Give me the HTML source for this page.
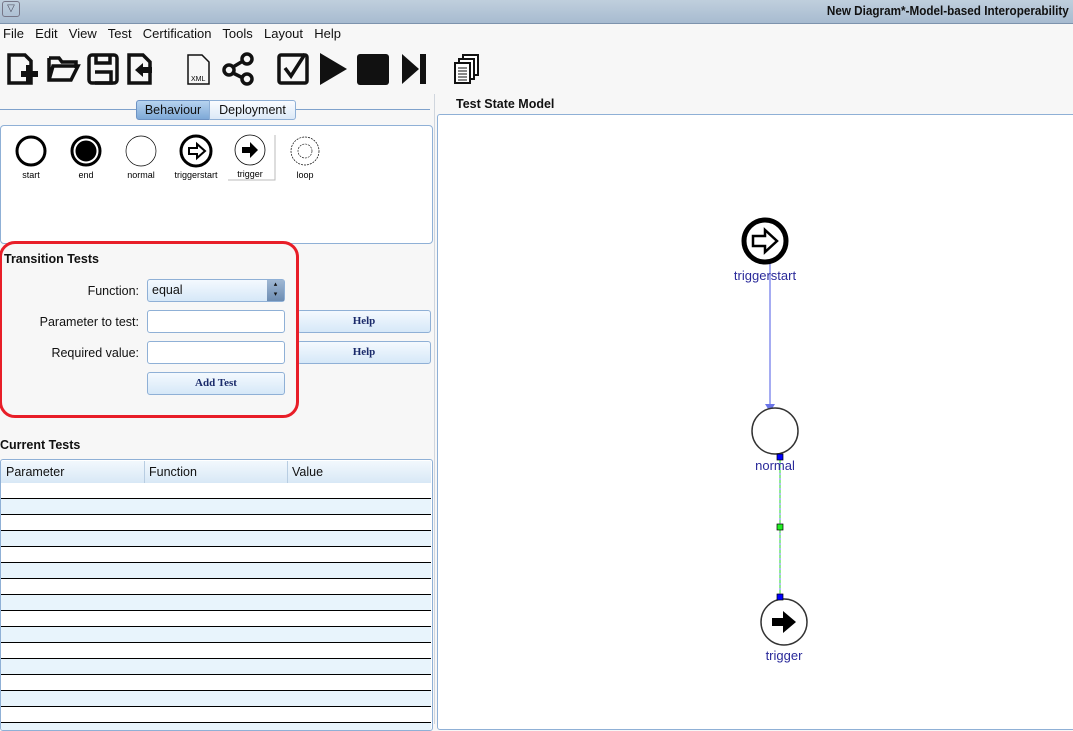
<!DOCTYPE html>
<html><head><style>
body{margin:0;width:1073px;height:724px;position:relative;overflow:hidden;background:#f7f7f7;font-family:"Liberation Sans",sans-serif;font-size:13px;color:#111}
.a{position:absolute}
.btn{position:absolute;background:linear-gradient(#f4f9fe,#d6e8f8);border:1px solid #8fb0d6;border-radius:3px;font-family:"Liberation Serif",serif;font-weight:bold;font-size:11px;color:#1a2a6a;text-align:center}
.inp{position:absolute;background:#fff;border:1px solid #8fb0d6;border-radius:3px}
.lbl{position:absolute;text-align:right;width:139px;font-size:12.5px}
</style></head><body>
<div class="a" style="left:0;top:0;width:1073px;height:23px;background:linear-gradient(#c0cfdd,#a7bbd0);border-bottom:1px solid #7d93ad"></div>
<div class="a" style="left:2px;top:1px;width:16px;height:14px;border:1px solid #778;border-radius:3px;font-size:10px;text-align:center;line-height:14px;color:#445">▽</div>
<div class="a" style="right:4px;top:3px;font-weight:bold;font-size:13px;color:#111;transform:scaleX(0.9);transform-origin:right">New Diagram*-Model-based Interoperability</div>
<div class="a" style="left:3px;top:26px;font-size:13px;word-spacing:2px">File&nbsp; Edit&nbsp; View&nbsp; Test&nbsp; Certification&nbsp; Tools&nbsp; Layout&nbsp; Help</div>
<svg class="a" style="left:0;top:48px" width="500" height="44" viewBox="0 0 500 44">
<g fill="none" stroke="#111" stroke-width="3.5">
<path d="M9 7h16l6 6v22H9z"/><path d="M49 10h10l3 4h14v6M49 10v22h22l7-14H53l-4 14"/><rect x="89" y="7" width="28" height="28" rx="3"/><path d="M96 7v8h14V7M95 24h16v11H95"/><path d="M129 7h14l7 7v21h-21z"/>
<path d="M188 7h14l7 7v22h-21z" stroke-width="1.5"/>
<circle cx="229" cy="22" r="5"/><circle cx="247" cy="11" r="5"/><circle cx="247" cy="31" r="5"/><path d="M233 19l10-6M233 25l10 5"/>
<rect x="279" y="7" width="28" height="28" rx="2"/><path d="M285 20l6 8 14-22" />
<path d="M423 6v30" stroke-width="6"/>
</g>
<path d="M21 23h17v6H21zM26 17h6v18h-6z" fill="#111"/>
<path d="M135 22l8-7v4h9v6h-9v4z" fill="#111"/>
<text x="191" y="33" font-size="7" font-family="Liberation Sans">XML</text>
<path d="M320 5l27 16-27 16z" fill="#111"/><rect x="357" y="6" width="32" height="31" rx="3" fill="#111"/><path d="M402 6l17 15-17 15z" fill="#111"/>
<g fill="#fff" stroke="#111" stroke-width="2"><rect x="463" y="7" width="15" height="20"/><rect x="459" y="11" width="15" height="20"/><rect x="455" y="15" width="15" height="20"/></g>
<path d="M458 20h9M458 23h9M458 26h9M458 29h9M458 32h9" stroke="#111"/>
</svg>
<div class="a" style="left:0;top:109px;width:430px;height:1px;background:#7fa2cc"></div>
<div class="a" style="left:136px;top:100px;width:72px;height:18px;background:linear-gradient(#b7d3ef,#7ea9d7);border:1px solid #6d93c4;border-radius:3px 0 0 3px;text-align:center;line-height:18px;font-size:12.5px">Behaviour</div>
<div class="a" style="left:209px;top:100px;width:85px;height:18px;background:linear-gradient(#fafcff,#dce9f7);border:1px solid #8fb0d6;border-radius:0 3px 3px 0;text-align:center;line-height:18px;font-size:12.5px">Deployment</div>
<div class="a" style="left:434px;top:94px;width:1px;height:630px;background:#d0d6de"></div>
<div class="a" style="left:0;top:125px;width:431px;height:117px;background:#fff;border:1px solid #8fb0d6;border-radius:4px"></div>
<svg class="a" style="left:0;top:128px" width="340" height="60">
<g fill="none" stroke="#000"><circle cx="31" cy="23" r="14" stroke-width="3"/><circle cx="86" cy="23" r="14" stroke-width="3"/><circle cx="86" cy="23" r="10" fill="#000"/><circle cx="141" cy="23" r="15" stroke-width="0.7"/><circle cx="196" cy="23" r="15" stroke-width="3"/><path d="M189 20h8v-4l8 7-8 7v-4h-8z" stroke-width="2"/><circle cx="250" cy="22" r="15" stroke-width="0.8"/><circle cx="305" cy="23" r="14" stroke-width="0.7" stroke-dasharray="2 1"/><circle cx="305" cy="23" r="7" stroke-width="0.6" stroke-dasharray="2 1"/></g>
<path d="M242 19h8v-5l8 8-8 8v-5h-8z" fill="#000"/>
<path d="M228 52h47V7" stroke="#bbb" fill="none"/>
<g font-size="9" font-family="Liberation Sans" text-anchor="middle"><text x="31" y="50">start</text><text x="86" y="50">end</text><text x="141" y="50">normal</text><text x="196" y="50">triggerstart</text><text x="250" y="49">trigger</text><text x="305" y="50">loop</text></g>
</svg>
<div class="a" style="left:4px;top:252px;font-weight:bold;font-size:12.5px">Transition Tests</div>
<div class="lbl" style="left:0;top:284px">Function:</div>
<div class="a" style="left:147px;top:279px;width:136px;height:21px;background:linear-gradient(#f4f9fe,#d6e8f8);border:1px solid #8fb0d6;border-radius:3px"><span style="position:absolute;left:4px;top:3px;font-size:12.5px">equal</span><div style="position:absolute;right:0;top:0;width:17px;height:21px;background:linear-gradient(#9fb7d3,#6d8db3);font-size:7px;text-align:center;line-height:10px">▴<br>▾</div></div>
<div class="lbl" style="left:0;top:315px">Parameter to test:</div>
<div class="inp" style="left:147px;top:310px;width:136px;height:21px"></div>
<div class="lbl" style="left:0;top:346px">Required value:</div>
<div class="inp" style="left:147px;top:341px;width:136px;height:21px"></div>
<div class="btn" style="left:297px;top:310px;width:132px;height:21px;line-height:21px">Help</div>
<div class="btn" style="left:297px;top:341px;width:132px;height:21px;line-height:21px">Help</div>
<div class="btn" style="left:147px;top:372px;width:136px;height:21px;line-height:21px">Add Test</div>
<div class="a" style="left:-1px;top:241px;width:294px;height:171px;border:3px solid #e81e28;border-radius:16px"></div>
<div class="a" style="left:0;top:438px;font-weight:bold;font-size:12.5px">Current Tests</div>
<div class="a" style="left:0;top:459px;width:431px;height:270px;background:#fff;border:1px solid #8fb0d6;border-radius:3px;overflow:hidden">
<div style="position:absolute;left:0;top:1px;width:430px;height:22px;background:linear-gradient(#f2f8fd,#d8e8f6);font-size:12.5px;line-height:22px">
<span style="position:absolute;left:5px">Parameter</span><span style="position:absolute;left:143px;border-left:1px solid #b8cde2;padding-left:4px;height:22px">Function</span><span style="position:absolute;left:286px;border-left:1px solid #b8cde2;padding-left:4px;height:22px">Value</span></div>
<div style="position:absolute;left:0;top:38px;width:430px;height:240px;background:repeating-linear-gradient(#000 0 1px,#e8f4fc 1px 16px,#000 16px 17px,#fff 17px 32px)"></div>
</div>
<div class="a" style="left:456px;top:97px;font-weight:bold;font-size:12.5px">Test State Model</div>
<div class="a" style="left:437px;top:114px;width:640px;height:614px;background:#fff;border:1px solid #8fb0d6;border-radius:3px"></div>
<svg class="a" style="left:700px;top:200px" width="200" height="480">
<path d="M70 60V225" stroke="#6a74e8" stroke-width="1.2"/><path d="M65 204l5 8 5-8z" fill="#6a74e8"/>
<path d="M80 260V395" stroke="#6a74e8" stroke-width="1"/><path d="M80 260V395" stroke="#22dd22" stroke-width="1" stroke-dasharray="3 2"/>
<circle cx="65" cy="41" r="21" fill="#fff" stroke="#000" stroke-width="5"/>
<path d="M53 36h12v-6l12 11-12 11v-6h-12z" fill="#fff" stroke="#000" stroke-width="2.5"/>
<circle cx="75" cy="231" r="23" fill="#fff" stroke="#333" stroke-width="1.5"/>
<circle cx="84" cy="422" r="23" fill="#fff" stroke="#333" stroke-width="1.5"/>
<path d="M72 418h11v-7l13 11-13 11v-7h-11z" fill="#000"/>
<rect x="77" y="254" width="6" height="6" fill="#0000ff" stroke="#000" stroke-width="0.7"/>
<rect x="77" y="324" width="6" height="6" fill="#22ee22" stroke="#000" stroke-width="0.7"/>
<rect x="77" y="394" width="6" height="6" fill="#0000ff" stroke="#000" stroke-width="0.7"/>
<g font-family="Liberation Sans" font-size="13" fill="#2a2a9a" text-anchor="middle"><text x="65" y="80">triggerstart</text><text x="75" y="270">normal</text><text x="84" y="460">trigger</text></g>
</svg>
</body></html>
